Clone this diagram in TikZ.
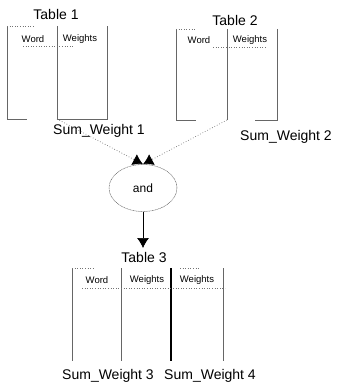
\documentclass[tikz,border=0pt]{standalone}
\usepackage{fontspec}
\setmainfont{Liberation Sans}
\usetikzlibrary{arrows.meta,shapes.geometric}
\tikzset{
  lbl/.style={inner sep=0pt, font=\fontsize{14}{16}\selectfont},
  hdr/.style={inner sep=0pt, font=\fontsize{9.5}{11}\selectfont},
  tline/.style={draw=black!60, line width=0.6pt},
  hline/.style={draw=black!55, dotted, line width=0.6pt},
  conn/.style={draw=black!55, dotted, line width=0.7pt},
  tip/.style={-{Latex[length=10pt,width=12pt,black]}}
}
\begin{document}
\begin{tikzpicture}[x=1pt,y=-1pt]
\useasboundingbox (0,0) rectangle (338,385);
% Table 1
\node[lbl] (t1) at (56,14) {Table 1};
\draw[tline] (7,26) -- (7,119) -- (27,119);
\draw[tline] (57,26) -- (57,119) -- (107,119) -- (107,26);
\draw[hline] (7,26) -- (35,26);
\draw[hline] (23,46) -- (73,46);
\node[hdr] (t1w) at (33,39) {Word};
\node[hdr] (t1g) at (80,39) {Weights};
\coordinate (t1b) at (57,119);
\node[lbl] (s1) at (99,131) {Sum\_Weight 1};
% Table 2
\node[lbl] (t2) at (235,20) {Table 2};
\draw[tline] (176,29) -- (176,120) -- (196,120);
\draw[tline] (227,29) -- (227,120);
\draw[tline] (277,29) -- (277,120) -- (255,120);
\draw[hline] (176,29) -- (196,29);
\draw[hline] (213,47) -- (267,47);
\node[hdr] (t2w) at (199,40) {Word};
\node[hdr] (t2g) at (250,40) {Weights};
\coordinate (t2b) at (227,120);
\node[lbl] (s2) at (286,137) {Sum\_Weight 2};
% and
\node[draw=black!60, line width=0.5pt, dash pattern=on 1pt off 0.6pt, ellipse, minimum width=68pt, minimum height=47pt, inner sep=0pt] (and) at (143,188) {\fontsize{12}{14}\selectfont and};
\draw[conn, tip] (t1b) -- (and.north);
\draw[conn, tip] (t2b) -- (and.north);
\node[lbl] (t3) at (144,257) {Table 3};
\draw[line width=0.7pt, tip] (and.south) -- (143,248);
% Table 3
\draw[tline] (72,268) -- (72,361);
\draw[tline] (121,268) -- (121,361);
\draw[draw=black, line width=1.4pt] (171,268) -- (171,361);
\draw[tline] (223,268) -- (223,361);
\draw[hline] (72,268) -- (95,268);
\draw[hline] (180,268) -- (200,268);
\draw[hline] (82,288) -- (225,288);
\node[hdr] (t3w) at (97,280) {Word};
\node[hdr] (t3g) at (147,280) {Weights};
\node[hdr] (t3h) at (197,280) {Weights};
\node[lbl] (s3) at (108,376) {Sum\_Weight 3};
\node[lbl] (s4) at (210,376) {Sum\_Weight 4};
\end{tikzpicture}
\end{document}
